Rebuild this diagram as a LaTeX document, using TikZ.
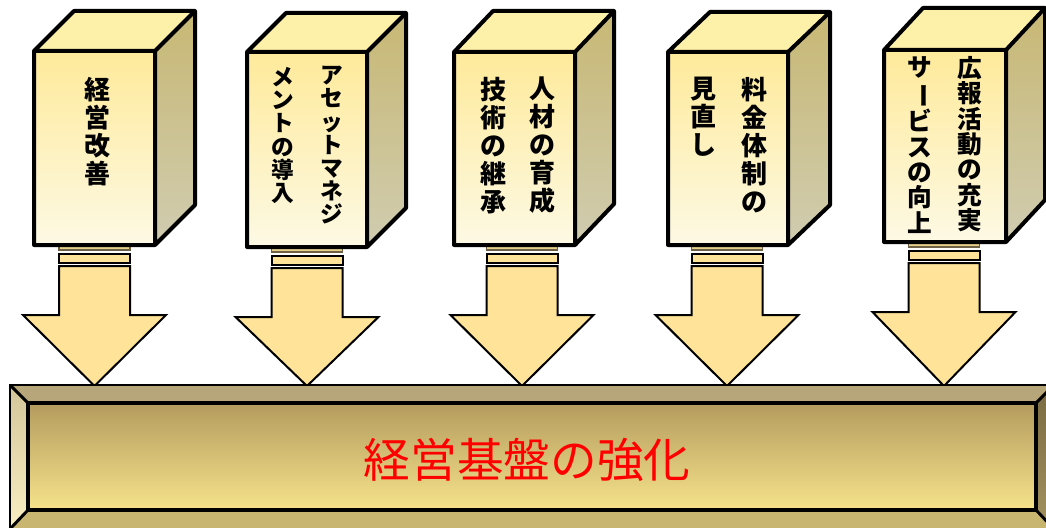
\documentclass[tikz,border=0pt]{standalone}
\usepackage{fontspec}
\newfontfamily\jp{Noto Sans CJK JP}
\definecolor{frontTop}{HTML}{FEEA9A}
\definecolor{frontBot}{HTML}{FDF9E4}
\definecolor{topFace}{HTML}{FDF1AA}
\definecolor{sideTop}{HTML}{C8B874}
\definecolor{sideBot}{HTML}{D0CCB0}
\definecolor{arrowFill}{HTML}{FEE398}
\definecolor{stripFill}{HTML}{E6D28C}
\definecolor{stripLine}{HTML}{6E6044}
\definecolor{barTop}{HTML}{B7A679}
\definecolor{barLeftTop}{HTML}{D3C59A}
\definecolor{barLeftBot}{HTML}{F9EFC2}
\definecolor{barBottom}{HTML}{C8B56F}
\definecolor{barRightTop}{HTML}{7A6A42}
\definecolor{barRightBot}{HTML}{A39260}
\definecolor{barInTop}{HTML}{B49B5E}
\definecolor{barInMid}{HTML}{D9C27C}
\definecolor{barInBot}{HTML}{F6E38B}
\definecolor{baseRed}{HTML}{FF0000}
\tikzset{
  boxline/.style={line width=3pt, line join=round, black},
  arrline/.style={line width=1.5pt, fill=arrowFill, draw=black, line join=miter},
  stripline/.style={line width=1.2pt, fill=stripFill, draw=stripLine},
  coltext/.style={anchor=north, inner sep=0pt, align=center, text=black},
  colbig/.style={coltext, font=\jp\bfseries\fontsize{19.5}{21}\selectfont},
  colsmall/.style={coltext, font=\jp\bfseries\fontsize{17}{17.4}\selectfont},
  colmid/.style={coltext, font=\jp\bfseries\fontsize{18.5}{19}\selectfont},
}
% L T R B dx dy
\newcommand\pillarbox[6]{%
  \shade[top color=frontTop,bottom color=frontBot] (#1,#2) rectangle (#3,#4);
  \fill[topFace] (#1,#2) -- ({#1+#5},{#2-#6}) -- ({#3+#5},{#2-#6}) -- (#3,#2) -- cycle;
  \shade[top color=sideTop,bottom color=sideBot] (#3,#2) -- ({#3+#5},{#2-#6}) -- ({#3+#5},{#4-#6}) -- (#3,#4) -- cycle;
  \draw[boxline] (#1,#2) rectangle (#3,#4)
     (#1,#2) -- ({#1+#5},{#2-#6}) -- ({#3+#5},{#2-#6}) -- ({#3+#5},{#4-#6}) -- (#3,#4)
     (#3,#2) -- ({#3+#5},{#2-#6});
}
% cx b
\newcommand\blockarr[2]{%
  \draw[stripline] ({#1-35.5},#2) rectangle ({#1+35.5},{#2+5});
  \draw[arrline] ({#1-35.5},{#2+9}) rectangle ({#1+35.5},{#2+18});
  \draw[arrline] ({#1-35.5},{#2+21}) -- ({#1+35.5},{#2+21}) -- ({#1+35.5},{#2+70})
     -- ({#1+71.5},{#2+70}) -- (#1,386) -- ({#1-71.5},{#2+70}) -- ({#1-35.5},{#2+70}) -- cycle;
}
\newcommand\vbar{\rotatebox[origin=c]{-90}{ー}}
\begin{document}
\begin{tikzpicture}[x=0.75pt,y=-0.75pt]
\useasboundingbox (0,0) rectangle (1046,528);
\clip (0,0) rectangle (1046,528);
\fill[white] (0,0) rectangle (1046,528);

% arrows
\blockarr{94.5}{245}
\blockarr{307}{247}
\blockarr{522}{245}
\blockarr{727}{245}
\blockarr{944}{242}

% pillars
\pillarbox{34}{51}{155}{245}{40}{40}
\pillarbox{247}{52}{367}{247}{39}{39}
\pillarbox{454}{52}{575}{245}{39}{41}
\pillarbox{668}{52}{788}{245}{42}{40}
\pillarbox{884}{50}{1006}{242}{39}{42}

% texts
\node[colbig] (t1) at (97,77) {経\\営\\改\\善};
\node[colsmall] (t2a) at (332,66) {ア\\セ\\ッ\\ト\\マ\\ネ\\ジ};
\node[colsmall] (t2b) at (283,67) {メ\\ン\\ト\\の\\導\\入};
\node[colbig] (t3a) at (542,77) {人\\材\\の\\育\\成};
\node[colbig] (t3b) at (493,77) {技\\術\\の\\継\\承};
\node[colbig] (t4a) at (754,77) {料\\金\\体\\制\\の};
\node[colbig] (t4b) at (703,77) {見\\直\\し};
\node[colmid] (t5a) at (970,56) {広\\報\\活\\動\\の\\充\\実};
\node[colmid] (t5b) at (920,56) {サ\\\vbar\\ビ\\ス\\の\\向\\上};

% base bar
\fill[barTop] (10,385) -- (1054,385) -- (1036,403) -- (28,403) -- cycle;
\shade[top color=barLeftTop,bottom color=barLeftBot] (10,385) -- (28,403) -- (28,510) -- (10,529) -- cycle;
\fill[barBottom] (28,510) -- (1036,510) -- (1054,529) -- (10,529) -- cycle;
\shade[top color=barRightTop,bottom color=barRightBot] (1036,403) -- (1054,385) -- (1054,529) -- (1036,510) -- cycle;
\shade[top color=barInTop,middle color=barInMid,bottom color=barInBot] (28,403) rectangle (1036,510);
\draw[line width=2.2pt] (10,385) rectangle (1054,529);
\draw[line width=2.2pt] (10,385) -- (28,403) (1054,385) -- (1036,403) (10,529) -- (28,510) (1054,529) -- (1036,510);
\draw[line width=3.4pt] (28,403) rectangle (1036,510);
\node[inner sep=0pt, text=baseRed, font=\jp\fontsize{35}{35}\selectfont] (base) at (527,460) {経営基盤の強化};
\end{tikzpicture}
\end{document}
